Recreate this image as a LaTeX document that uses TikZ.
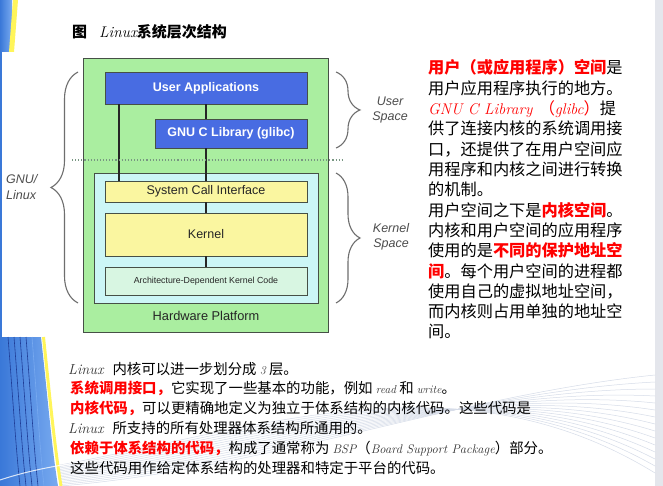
\documentclass[tikz,border=0pt]{standalone}
\usepackage{fontspec}
\newfontfamily\cjk{Noto Sans CJK SC}
\newfontfamily\arial{Liberation Sans}
\usetikzlibrary{decorations.pathreplacing}
\definecolor{hwgreen}{RGB}{170,238,160}
\definecolor{uablue}{RGB}{72,108,226}
\definecolor{kcyan}{RGB}{204,246,246}
\definecolor{kyellow}{RGB}{250,246,160}
\definecolor{archgreen}{RGB}{216,246,226}
\definecolor{edgegray}{RGB}{70,80,70}
\definecolor{bracegray}{RGB}{110,110,110}
\definecolor{swblue}{RGB}{58,120,216}
\definecolor{swlight}{RGB}{120,170,240}
\definecolor{swdark}{RGB}{30,60,150}
\definecolor{swyellow}{RGB}{255,245,90}
\definecolor{barGray}{RGB}{228,230,236}
\definecolor{swline}{RGB}{214,220,232}
\definecolor{scrgray}{RGB}{50,50,50}
\definecolor{dotgreen}{RGB}{120,150,130}
\newcommand\scrw[1]{{\rmfamily\itshape #1}}
\begin{document}
\begin{tikzpicture}[x=1pt,y=-1pt,
  box/.style={draw=edgegray,line width=0.8pt,inner sep=0pt,font=\arial\fontsize{12.5}{14}\selectfont,text=black!85},
  conn/.style={draw=black!85,line width=1.4pt},
  rt/.style={anchor=base west,inner sep=0pt,font=\cjk\fontsize{16.2}{20}\selectfont},
  bt/.style={anchor=base west,inner sep=0pt,font=\cjk\fontsize{14.4}{18}\selectfont},
  sidelabel/.style={inner sep=0pt,font=\arial\itshape\fontsize{12.5}{15.5}\selectfont,text=black!70},
  brc/.style={draw=bracegray,line width=1.1pt,decorate},
  hl/.style={text=red,font=\cjk\bfseries}]
\useasboundingbox (0,0) rectangle (663,486);
\fill[white] (0,0) rectangle (663,486);
% ---- background decorations
\fill[barGray] (655,0) rectangle (663,486);
\shade[left color=swblue,right color=swlight] (0,0) rectangle (12,52);
\fill[swyellow] (13,0) -- (18,0) -- (14,52) -- (9,52) -- cycle;
\fill[swblue] (0,52) rectangle (1.5,337);
\foreach \k in {0,...,14}
  \draw[swline,line width=0.5pt] (60,486-\k*1.5) .. controls (260,470-\k*3) and (460,395-\k*3) .. (655,375+\k*7);
\shade[left color=swblue,right color=swlight] (0,337) -- (41,337) .. controls (48,400) and (52,450) .. (58,486) -- (0,486) -- cycle;
\foreach \xx/\c in {8/swdark,14/swdark,20/swdark,26/swdark,32/swlight}
  \draw[\c,line width=0.6pt] (\xx,337) .. controls (\xx+5,400) and (\xx+8,450) .. (\xx+12,486);
\draw[swyellow,line width=3pt] (43.5,337) .. controls (50,400) and (55,450) .. (61,486);
\draw[white,line width=1pt,opacity=0.8] (0,480) .. controls (30,470) and (70,462) .. (110,460);
% ---- title
\node[anchor=base west,inner sep=0pt] (title) at (72,38)
  {\cjk\bfseries\fontsize{15}{18}\selectfont 图\hspace{12pt}{\rmfamily\mdseries\itshape\fontsize{15.5}{18}\selectfont Linux}系统层次结构};
% ---- diagram
\node[box,fill=hwgreen,minimum width=245pt,minimum height=274pt] (hw) at (205.5,195) {};
\node[box,fill=kcyan,minimum width=224pt,minimum height=130pt] (ks) at (206,238) {};
\coordinate (lx) at (119,0);
\node[box,fill=uablue,minimum width=202pt,minimum height=32pt,text=white,font=\arial\bfseries\fontsize{12.5}{14}\selectfont] (ua) at (206,88) {User Applications};
\node[box,fill=uablue,minimum width=152pt,minimum height=29pt,text=white,font=\arial\bfseries\fontsize{12.5}{14}\selectfont] (glibc) at (231,133.5) {GNU C Library (glibc)};
\node[box,fill=kyellow,minimum width=202pt,minimum height=21pt] (sci) at (206,191.5) {System Call Interface};
\node[box,fill=kyellow,minimum width=202pt,minimum height=43pt] (kernel) at (206,234.5) {Kernel};
\node[box,fill=archgreen,minimum width=202pt,minimum height=28pt,font=\arial\fontsize{8.8}{10}\selectfont] (arch) at (206,281) {Architecture-Dependent Kernel Code};
\node[inner sep=0pt,font=\arial\fontsize{12.8}{14}\selectfont,text=black!85] (hwt) at (206,316) {Hardware Platform};
\draw[conn] (ua.south -| lx) -- (sci.north -| lx);
\draw[conn] (ua.south) -- (ua.south |- glibc.north);
\draw[conn] (sci.north |- glibc.south) -- (sci.north);
\draw[conn] (sci.south) -- (kernel.north);
\draw[conn] (kernel.south) -- (arch.north);
\draw[dotgreen,line width=1.1pt,dotted] (72,160) -- (343,160);
% braces
\draw[brc,decoration={brace,amplitude=24pt,aspect=0.5}] (336,72) -- (336,148);
\draw[brc,decoration={brace,amplitude=24pt,aspect=0.5}] (336,173) -- (336,303);
\draw[brc,decoration={brace,amplitude=27pt,aspect=0.5}] (78,303) -- (78,72);
\node[sidelabel,align=center] (us) at (390,110) {User\\Space};
\node[sidelabel,align=center] (kspace) at (391,237) {Kernel\\Space};
\node[sidelabel,align=left,anchor=west] (gl) at (6,187) {GNU/\\Linux};
% ---- right text
\node[rt] (r1) at (428,74) {\textcolor{red}{\bfseries 用户（或应用程序）空间}是};
\node[rt] (r2) at (428,94.3) {用户应用程序执行的地方。};
\node[rt] (r3) at (428,114.6) {\textcolor{red}{\scrw{\fontsize{15.5}{16}\selectfont GNU C Library}\ \,（\scrw{\fontsize{15.5}{16}\selectfont glibc}）}提};
\node[rt] (r4) at (428,134.9) {供了连接内核的系统调用接};
\node[rt] (r5) at (428,155.2) {口，还提供了在用户空间应};
\node[rt] (r6) at (428,175.5) {用程序和内核之间进行转换};
\node[rt] (r7) at (428,195.8) {的机制。};
\node[rt] (r8) at (428,216.1) {用户空间之下是\textcolor{red}{\bfseries 内核空间}。};
\node[rt] (r9) at (428,236.4) {内核和用户空间的应用程序};
\node[rt] (r10) at (428,256.7) {使用的是\textcolor{red}{\bfseries 不同的保护地址空}};
\node[rt] (r11) at (428,277) {\textcolor{red}{\bfseries 间}。每个用户空间的进程都};
\node[rt] (r12) at (428,297.3) {使用自己的虚拟地址空间，};
\node[rt] (r13) at (428,317.6) {而内核则占用单独的地址空};
\node[rt] (r14) at (428,337.9) {间。};
% ---- bottom text
\node[bt] (b1) at (68,374) {\textcolor{scrgray}{\scrw{\fontsize{14.5}{14}\selectfont Linux}}\hspace{9pt}内核可以进一步划分成 \textcolor{scrgray}{\scrw{\fontsize{12}{14}\selectfont 3}} 层。};
\node[bt] (b2) at (70,393.8) {\textcolor{red}{\bfseries 系统调用接口，}它实现了一些基本的功能，例如 \textcolor{scrgray}{\scrw{\fontsize{11.5}{14}\selectfont read}} 和 \textcolor{scrgray}{\scrw{\fontsize{11.5}{14}\selectfont write}}。};
\node[bt] (b3) at (70,413.6) {\textcolor{red}{\bfseries 内核代码，}可以更精确地定义为独立于体系结构的内核代码。这些代码是};
\node[bt] (b4) at (68,433.4) {\textcolor{scrgray}{\scrw{\fontsize{14.5}{14}\selectfont Linux}}\hspace{9pt}所支持的所有处理器体系结构所通用的。};
\node[bt] (b5) at (70,453.2) {\textcolor{red}{\bfseries 依赖于体系结构的代码，}构成了通常称为 \textcolor{scrgray}{\scrw{\fontsize{12.5}{14}\selectfont BSP}}（\textcolor{scrgray}{\scrw{\fontsize{12.5}{14}\selectfont Board Support Package}}）部分。};
\node[bt] (b6) at (70,473) {这些代码用作给定体系结构的处理器和特定于平台的代码。};
\end{tikzpicture}
\end{document}
